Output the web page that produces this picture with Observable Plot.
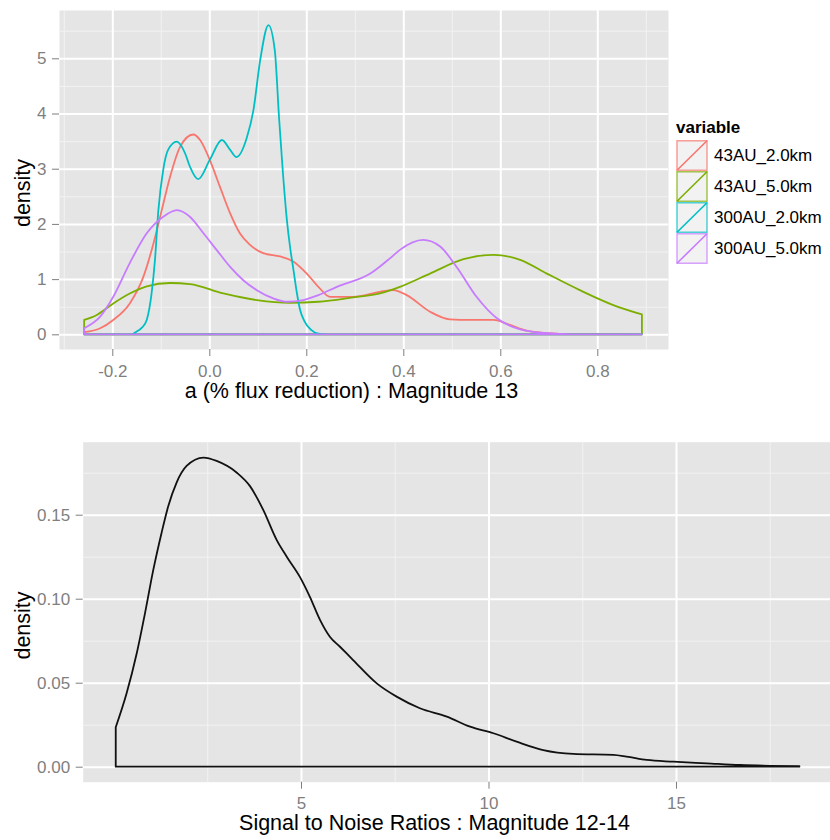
<!DOCTYPE html>
<html>
<head>
<meta charset="utf-8">
<script src="https://cdn.jsdelivr.net/npm/d3@7"></script>
<script src="https://cdn.jsdelivr.net/npm/@observablehq/plot@0.6"></script>
<style>
  body { margin: 0; background: #fff; }
  #wrap { position: relative; width: 830px; height: 840px; font-family: "Liberation Sans", Arial, Helvetica, sans-serif; }
  #wrap > svg { position: absolute; left: 0; }
  #legend { position: absolute; left: 676px; top: 118px; font-family: "Liberation Sans", Arial, sans-serif; }
  #legend .title { font-weight: bold; font-size: 17px; line-height: 20px; height: 22px; color: #000; }
  #legend .row { display: flex; align-items: center; height: 31px; }
  #legend .row svg { position: static; display: block; }
  #legend .row span { margin-left: 6px; font-size: 17px; color: #000; }
</style>
</head>
<body>
<div id="wrap"></div>
<script>
// ---------- data: top panel ----------
const categories = ["43AU_2.0km", "43AU_5.0km", "300AU_2.0km", "300AU_5.0km"];
const colors = ["#F8766D", "#7CAE00", "#00BFC4", "#C77CFF"];

const red_x = [-0.258,-0.225,-0.198,-0.164,-0.136,-0.115,-0.098,-0.081,-0.06,-0.033,-0.019,0.001,0.022,0.043,0.063,0.084,0.111,0.146,0.173,0.201,0.225,0.249,0.297,0.352,0.379,0.407,0.455,0.496,0.538,0.586,0.62,0.654,0.696,0.75,0.892];
const red_y = [0.04,0.11,0.26,0.56,1.04,1.65,2.25,2.85,3.4,3.62,3.52,3.16,2.67,2.19,1.83,1.62,1.47,1.41,1.32,1.10,0.86,0.68,0.68,0.77,0.8,0.71,0.41,0.27,0.26,0.26,0.17,0.065,0.02,0.003,0];

const green_x = [-0.258,-0.232,-0.198,-0.164,-0.129,-0.081,-0.04,0.029,0.098,0.166,0.225,0.297,0.352,0.393,0.455,0.524,0.586,0.641,0.696,0.764,0.833,0.892];
const green_y = [0.26,0.35,0.56,0.74,0.87,0.93,0.91,0.74,0.62,0.57,0.59,0.67,0.74,0.86,1.10,1.36,1.44,1.35,1.10,0.80,0.53,0.36];

const cyan_x = [-0.258,-0.16,-0.15,-0.139,-0.129,-0.119,-0.112,-0.105,-0.095,-0.085,-0.067,-0.05,-0.04,-0.023,0.001,0.026,0.043,0.056,0.077,0.091,0.105,0.122,0.135,0.144,0.152,0.16,0.167,0.173,0.18,0.187,0.196,0.21,0.225,0.24,0.892];
const cyan_y = [0,0,0.05,0.12,0.26,0.74,1.35,2.25,2.98,3.34,3.49,3.28,3.04,2.81,3.16,3.52,3.34,3.21,3.55,4.06,4.97,5.6,5.15,3.9,2.9,2.07,1.55,1.2,0.78,0.45,0.24,0.08,0.01,0,0];

const purple_x = [-0.258,-0.225,-0.198,-0.164,-0.129,-0.095,-0.067,-0.04,-0.012,0.015,0.043,0.07,0.098,0.132,0.16,0.194,0.225,0.263,0.332,0.373,0.393,0.441,0.476,0.51,0.551,0.593,0.641,0.696,0.75,0.892];
const purple_y = [0.11,0.32,0.68,1.29,1.83,2.13,2.25,2.13,1.83,1.53,1.22,0.98,0.80,0.65,0.59,0.62,0.71,0.86,1.10,1.38,1.53,1.71,1.59,1.22,0.68,0.29,0.09,0.02,0,0];

const topXTicks = [-0.2, 0, 0.2, 0.4, 0.6, 0.8];
const topXMinor = [-0.3, -0.1, 0.1, 0.3, 0.5, 0.7, 0.9];
const topYTicks = [0, 1, 2, 3, 4, 5];
const topYMinor = [0.5, 1.5, 2.5, 3.5, 4.5, 5.5];
const topXLabel = "a (% flux reduction) : Magnitude 13";

// ---------- data: bottom panel ----------
const snr_x = [0.06,0.35,0.62,0.84,1.06,1.28,1.46,1.68,1.95,2.4,2.75,3.29,3.64,3.99,4.35,4.62,4.97,5.24,5.51,5.77,6.04,6.39,7.02,7.55,8.17,8.89,9.51,10.13,10.75,11.46,12.26,13.33,13.68,14.22,14.93,15.82,16.71,18.29];
const snr_y = [0.0235,0.0437,0.0675,0.0913,0.117,0.139,0.155,0.169,0.179,0.184,0.182,0.175,0.167,0.153,0.135,0.125,0.113,0.101,0.0873,0.0774,0.0714,0.0635,0.0496,0.0417,0.0348,0.0298,0.0238,0.0199,0.0149,0.0099,0.0076,0.007,0.006,0.004,0.003,0.002,0.001,0.0004];

const botXTicks = [5, 10, 15];
const botXMinor = [2.5, 7.5, 12.5, 17.5];
const botYTicks = [0, 0.05, 0.10, 0.15];
const botYMinor = [0.025, 0.075, 0.125, 0.175];
const botXLabel = "Signal to Noise Ratios : Magnitude 12-14";
const yLabel = "density";

// ---------- build tables ----------
const seriesXY = [[red_x, red_y], [green_x, green_y], [cyan_x, cyan_y], [purple_x, purple_y]];
const topData = seriesXY.flatMap(([xs, ys], i) => xs.map((x, j) => ({variable: categories[i], x, y: ys[j]})));
const snrData = snr_x.map((x, j) => ({x, y: snr_y[j]}));

const FONT = '"Liberation Sans", Arial, Helvetica, sans-serif';
const AX = "#7F7F7F";
const PANEL = "#E5E5E5";

function panelMarks(xMinor, yMinor, xMajor, yMajor) {
  return [
    Plot.frame({fill: PANEL, stroke: "none"}),
    Plot.gridX(xMinor, {stroke: "#F2F2F2", strokeOpacity: 1, strokeWidth: 1}),
    Plot.gridY(yMinor, {stroke: "#F2F2F2", strokeOpacity: 1, strokeWidth: 1}),
    Plot.gridX(xMajor, {stroke: "#FFFFFF", strokeOpacity: 1, strokeWidth: 2}),
    Plot.gridY(yMajor, {stroke: "#FFFFFF", strokeOpacity: 1, strokeWidth: 2})
  ];
}

const topPlot = Plot.plot({
  width: 830, height: 420,
  marginLeft: 59, marginRight: 162, marginTop: 10, marginBottom: 71,
  style: {fontFamily: FONT, background: "transparent", overflow: "visible"},
  x: {domain: [-0.3099, 0.9458]},
  y: {domain: [-0.266, 5.875]},
  color: {domain: categories, range: colors},
  marks: [
    ...panelMarks(topXMinor, topYMinor, topXTicks, topYTicks),
    Plot.areaY(topData, {x: "x", y1: 0, y2: "y", z: "variable", stroke: "variable", fill: "none", strokeWidth: 1.8, curve: "monotone-x"}),
    Plot.axisX(topXTicks, {tickFormat: d => d.toFixed(1), fontSize: 17, color: AX, tickSize: 7, tickPadding: 8, label: null}),
    Plot.axisY(topYTicks, {tickFormat: d => String(d), fontSize: 17, color: AX, tickSize: 7, tickPadding: 6, label: null}),
    Plot.text([topXLabel], {text: d => d, frameAnchor: "bottom", lineAnchor: "middle", textAnchor: "middle", dy: 41.5, dx: -12.5, fontSize: 21.5, fill: "#000"}),
    Plot.text([yLabel], {text: d => d, frameAnchor: "left", lineAnchor: "middle", textAnchor: "middle", rotate: -90, dx: -36, dy: 13, fontSize: 21.5, fill: "#000"})
  ]
});
topPlot.style.top = "0px";

const bottomPlot = Plot.plot({
  width: 830, height: 420,
  marginLeft: 82.7, marginRight: 0, marginTop: 21.7, marginBottom: 58.3,
  style: {fontFamily: FONT, background: "transparent", overflow: "visible"},
  x: {domain: [-0.821, 19.107]},
  y: {domain: [-0.00893, 0.19345]},
  marks: [
    ...panelMarks(botXMinor, botYMinor, botXTicks, botYTicks),
    Plot.areaY(snrData, {x: "x", y1: 0, y2: "y", stroke: "#111", fill: "none", strokeWidth: 1.8, curve: "monotone-x"}),
    Plot.axisX(botXTicks, {tickFormat: d => String(d), fontSize: 17, color: AX, tickSize: 7, tickPadding: 8, label: null}),
    Plot.axisY(botYTicks, {tickFormat: d => d.toFixed(2), fontSize: 17, color: AX, tickSize: 7, tickPadding: 6, label: null}),
    Plot.text([botXLabel], {text: d => d, frameAnchor: "bottom", lineAnchor: "middle", textAnchor: "middle", dy: 41.3, dx: -22.4, fontSize: 21.5, fill: "#000"}),
    Plot.text([yLabel], {text: d => d, frameAnchor: "left", lineAnchor: "middle", textAnchor: "middle", rotate: -90, dx: -59.7, dy: 13.3, fontSize: 21.5, fill: "#000"})
  ]
});
bottomPlot.style.top = "420px";

const wrap = document.getElementById("wrap");
wrap.appendChild(topPlot);
wrap.appendChild(bottomPlot);

// ---------- legend ----------
const legend = document.createElement("div");
legend.id = "legend";
const lt = document.createElement("div");
lt.className = "title";
lt.textContent = "variable";
legend.appendChild(lt);
const NS = "http://www.w3.org/2000/svg";
categories.forEach((c, i) => {
  const row = document.createElement("div");
  row.className = "row";
  const s = document.createElementNS(NS, "svg");
  s.setAttribute("width", 32); s.setAttribute("height", 31);
  const r = document.createElementNS(NS, "rect");
  r.setAttribute("x", 1); r.setAttribute("y", 0.75); r.setAttribute("width", 30); r.setAttribute("height", 29.5);
  r.setAttribute("fill", "#F2F2F2"); r.setAttribute("stroke", colors[i]); r.setAttribute("stroke-width", 1.5); r.setAttribute("stroke-opacity", 0.7);
  const l = document.createElementNS(NS, "line");
  l.setAttribute("x1", 1); l.setAttribute("y1", 30.25); l.setAttribute("x2", 31); l.setAttribute("y2", 0.75);
  l.setAttribute("stroke", colors[i]); l.setAttribute("stroke-width", 1.6);
  s.appendChild(r); s.appendChild(l);
  const t = document.createElement("span");
  t.textContent = c;
  row.appendChild(s); row.appendChild(t);
  legend.appendChild(row);
});
wrap.appendChild(legend);
</script>
</body>
</html>
